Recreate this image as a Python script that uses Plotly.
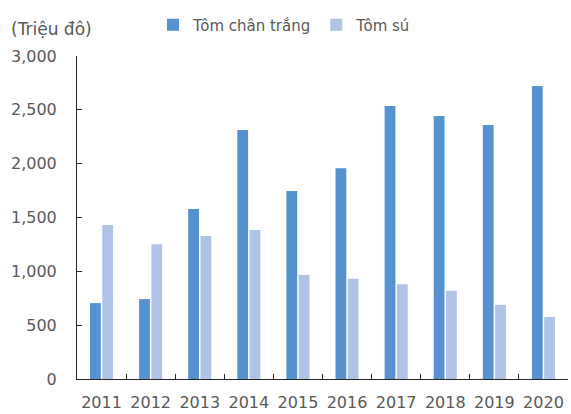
import plotly.graph_objects as go

years = ["2011", "2012", "2013", "2014", "2015", "2016", "2017", "2018", "2019", "2020"]
tom_chan_trang = [705, 742, 1580, 2313, 1747, 1957, 2535, 2442, 2359, 2721]
tom_su = [1431, 1252, 1329, 1385, 965, 930, 881, 819, 689, 575]
y_ticks = [0, 500, 1000, 1500, 2000, 2500, 3000]
y_tick_labels = ["0", "500", "1,000", "1,500", "2,000", "2,500", "3,000"]

font_family = "DejaVu Sans, Verdana, sans-serif"
text_color = "#595959"
fs = 16

fig = go.Figure()
fig.add_trace(go.Bar(x=years, y=tom_chan_trang, name="Tôm chân trắng",
                     marker=dict(color="#5592CF", line=dict(width=0))))
fig.add_trace(go.Bar(x=years, y=tom_su, name="Tôm sú",
                     marker=dict(color="#AEC3E6", line=dict(width=0))))

fig.update_layout(
    width=571, height=414,
    margin=dict(l=77, r=3, t=56, b=35, autoexpand=False),
    paper_bgcolor="white", plot_bgcolor="white",
    barmode="group", bargap=0.5, bargroupgap=0.12,
    font=dict(family=font_family, size=fs, color=text_color),
    title=dict(text="(Triệu đô)", x=11/571, xanchor="left", xref="container",
               y=1-29/414, yanchor="middle", yref="container",
               font=dict(family=font_family, size=17, color=text_color)),
    legend=dict(orientation="h", x=(153-77)/491, xanchor="left",
                y=1-25/414, yref="container", yanchor="middle",
                font=dict(family=font_family, size=15, color=text_color),
                bgcolor="rgba(0,0,0,0)", itemwidth=30),
    xaxis=dict(showline=True, linecolor="#262626", linewidth=1, automargin=False,
               ticks="inside", ticklen=5, tickcolor="#262626", tickson="boundaries",
               tickangle=0, ticklabelstandoff=9,
               showgrid=False, tickfont=dict(size=fs, color=text_color)),
    yaxis=dict(range=[0, 3000], tickvals=y_ticks, ticktext=y_tick_labels, automargin=False,
               showline=True, linecolor="#262626", linewidth=1,
               ticks="inside", ticklen=5, tickcolor="#262626",
               showgrid=False, zeroline=False, ticklabelstandoff=16,
               tickfont=dict(size=fs, color=text_color)),
)

fig.write_html("out.html", config={"displayModeBar": False},
               post_script="document.body.style.margin='0';document.body.style.padding='0';")
